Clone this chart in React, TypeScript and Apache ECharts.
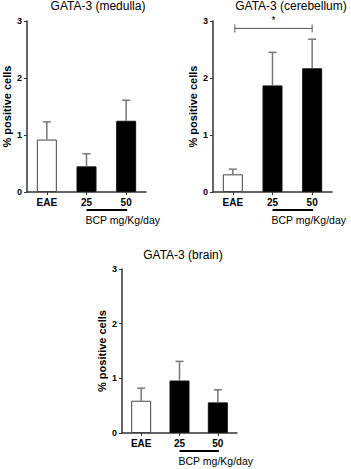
import React, { useEffect, useRef } from "react";
import * as echarts from "echarts";

const categories = ["EAE", "25", "50"];
const panelTitles = ["GATA-3 (medulla)", "GATA-3 (cerebellum)", "GATA-3 (brain)"];
const medullaMeans = [0.92, 0.45, 1.25];
const medullaUpper = [1.23, 0.67, 1.61];
const cerebellumMeans = [0.31, 1.87, 2.17];
const cerebellumUpper = [0.4, 2.45, 2.68];
const brainMeans = [0.59, 0.96, 0.56];
const brainUpper = [0.82, 1.31, 0.79];
const yMax = 3;
const yInterval = 1;
const yName = "% positive cells";
const doseLabel = "BCP mg/Kg/day";
const sigLabel = "*";
const sigValue = 2.87;
const sigFrom = 0;
const sigTo = 2;

const grids = [
  { left: 27, top: 21, width: 119, height: 171 },
  { left: 213, top: 21, width: 119, height: 171 },
  { left: 122, top: 269, width: 115, height: 164 },
];
const titlePos = [
  { x: 98, y: 6 },
  { x: 291, y: 6 },
  { x: 183, y: 255 },
];

const means = [medullaMeans, cerebellumMeans, brainMeans];
const uppers = [medullaUpper, cerebellumUpper, brainUpper];

const FONT = "Liberation Sans, Arial, Helvetica, sans-serif";

export default function App() {
  const ref = useRef<HTMLDivElement>(null);
  useEffect(() => {
    if (!ref.current) return;
    const chart = echarts.init(ref.current, null, { renderer: "svg" });

    const xAxis: any[] = [];
    const yAxis: any[] = [];
    const series: any[] = [];
    const graphic: any[] = [];

    grids.forEach((g, i) => {
      xAxis.push({
        type: "category",
        gridIndex: i,
        data: categories,
        axisLine: { lineStyle: { color: "#333", width: 1.5 } },
        axisTick: { show: true, alignWithLabel: true, length: 3, lineStyle: { color: "#333" } },
        axisLabel: { color: "#000", fontWeight: "bold", fontSize: 10, fontFamily: FONT, margin: 5 },
      });
      yAxis.push({
        type: "value",
        gridIndex: i,
        min: 0,
        max: yMax,
        interval: yInterval,
        name: yName,
        nameLocation: "middle",
        nameGap: 15,
        nameTextStyle: { color: "#000", fontWeight: "bold", fontSize: 11, fontFamily: FONT },
        splitLine: { show: false },
        axisLine: { show: true, lineStyle: { color: "#333", width: 1.5 } },
        axisTick: { show: true, length: 3, lineStyle: { color: "#333" } },
        axisLabel: { color: "#000", fontWeight: "bold", fontSize: 9, fontFamily: FONT, margin: 5 },
      });
      series.push({
        type: "bar",
        xAxisIndex: i,
        yAxisIndex: i,
        barWidth: 20,
        z: 2,
        data: means[i].map((v, k) => ({
          value: v,
          itemStyle: {
            color: k === 0 ? "#fff" : "#000",
            borderColor: k === 0 ? "#444" : "#111",
            borderWidth: 1,
          },
        })),
      });
      series.push({
        type: "custom",
        xAxisIndex: i,
        yAxisIndex: i,
        z: 3,
        data: means[i].map((v, k) => [k, v, uppers[i][k]]),
        renderItem: (params: any, api: any) => {
          const x = api.value(0);
          const p0 = api.coord([x, api.value(1)]);
          const p1 = api.coord([x, api.value(2)]);
          return {
            type: "group",
            children: [
              { type: "line", shape: { x1: p0[0], y1: p0[1], x2: p1[0], y2: p1[1] }, style: { stroke: "#777", lineWidth: 1.5 } },
              { type: "line", shape: { x1: p1[0] - 4, y1: p1[1], x2: p1[0] + 4, y2: p1[1] }, style: { stroke: "#777", lineWidth: 1.5 } },
            ],
          };
        },
      });

      // title
      graphic.push({
        type: "text",
        x: titlePos[i].x,
        y: titlePos[i].y,
        style: {
          text: panelTitles[i],
          fontSize: 12,
          fontFamily: FONT,
          fill: "#000",
          align: "center",
          verticalAlign: "middle",
        },
      });

      // dose underline + label
      const cw = g.width / categories.length;
      const x1 = g.left + 1.5 * cw;
      const x2 = g.left + 2.5 * cw + 1;
      const base = g.top + g.height;
      graphic.push({
        type: "line",
        shape: { x1, y1: base + 18, x2, y2: base + 18 },
        style: { stroke: "#000", lineWidth: 2 },
      });
      graphic.push({
        type: "text",
        x: x1 - 1,
        y: base + 28,
        style: {
          text: doseLabel,
          fontSize: 10.5,
          fontFamily: FONT,
          fill: "#000",
          align: "left",
          verticalAlign: "middle",
        },
      });
    });

    // significance bracket in cerebellum panel
    series.push({
      type: "custom",
      xAxisIndex: 1,
      yAxisIndex: 1,
      z: 4,
      clip: false,
      data: [[sigFrom, sigTo, sigValue]],
      renderItem: (params: any, api: any) => {
        const a = api.coord([api.value(0), api.value(2)]);
        const b = api.coord([api.value(1), api.value(2)]);
        const xa = a[0] + 2;
        const xb = b[0];
        const y = a[1];
        return {
          type: "group",
          children: [
            { type: "line", shape: { x1: xa, y1: y, x2: xb, y2: y }, style: { stroke: "#555", lineWidth: 1 } },
            { type: "line", shape: { x1: xa, y1: y - 4, x2: xa, y2: y + 4 }, style: { stroke: "#555", lineWidth: 1 } },
            { type: "line", shape: { x1: xb, y1: y - 4, x2: xb, y2: y + 4 }, style: { stroke: "#555", lineWidth: 1 } },
            {
              type: "text",
              x: (xa + xb) / 2,
              y: y - 3,
              style: { text: sigLabel, fontSize: 10, fontFamily: FONT, fill: "#000", align: "center", verticalAlign: "bottom" },
            },
          ],
        };
      },
    });

    chart.setOption({
      animation: false,
      backgroundColor: "#fff",
      grid: grids.map((g) => ({ ...g })),
      xAxis,
      yAxis,
      series,
      graphic,
    });
    return () => chart.dispose();
  }, []);
  return (
    <div
      ref={ref}
      style={{ position: "fixed", left: 0, top: 0, width: 351, height: 469, background: "#fff" }}
    />
  );
}
